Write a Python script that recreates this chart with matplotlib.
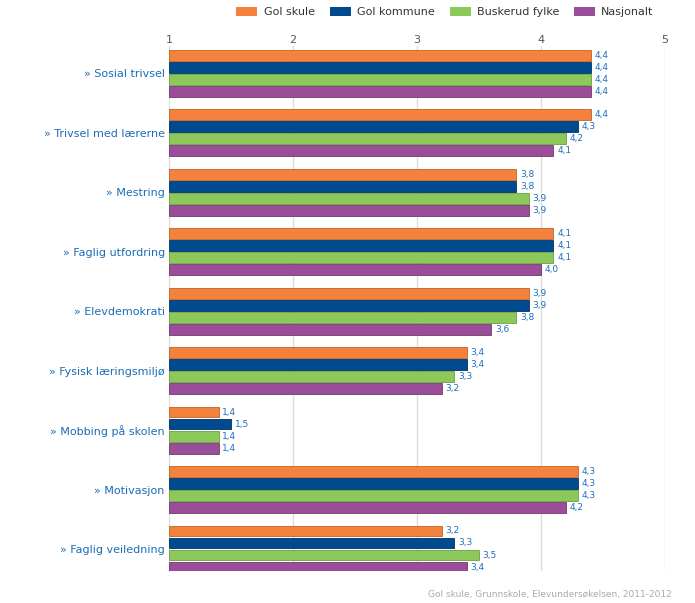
import matplotlib
matplotlib.use("Agg")
import matplotlib.pyplot as plt
import numpy as np

# data
categories = ["Sosial trivsel", "Trivsel med lærerne", "Mestring", "Faglig utfordring",
              "Elevdemokrati", "Fysisk læringsmiljø", "Mobbing på skolen", "Motivasjon",
              "Faglig veiledning"]
series_names = ["Gol skule", "Gol kommune", "Buskerud fylke", "Nasjonalt"]
gol_skule = [4.4, 4.4, 3.8, 4.1, 3.9, 3.4, 1.4, 4.3, 3.2]
gol_kommune = [4.4, 4.3, 3.8, 4.1, 3.9, 3.4, 1.5, 4.3, 3.3]
buskerud = [4.4, 4.2, 3.9, 4.1, 3.8, 3.3, 1.4, 4.3, 3.5]
nasjonalt = [4.4, 4.1, 3.9, 4.0, 3.6, 3.2, 1.4, 4.2, 3.4]
xticks = [1, 2, 3, 4, 5]
source = "Gol skule, Grunnskole, Elevundersøkelsen, 2011-2012"

colors = ["#F5823C", "#004A8F", "#8CC85A", "#9A4E9A"]
edges = ["#C0622A", "#00335F", "#6A9E44", "#723872"]

fig = plt.figure(figsize=(6.95, 6.03), dpi=100)
ax = fig.add_axes([169 / 695, 1 - 571 / 603, (665 - 169) / 695, (571 - 46) / 603])

y = np.arange(len(categories))
pitch = 0.202
height = 0.182
base = 1
for k, vals in enumerate([gol_skule, gol_kommune, buskerud, nasjonalt]):
    pos = y + (k - 1.5) * pitch
    widths = np.array(vals) - base
    ax.barh(pos, widths, left=base, height=height, color=colors[k],
            edgecolor=edges[k], linewidth=0.6, label=series_names[k], zorder=3)
    for p, v in zip(pos, vals):
        ax.text(v + 0.03, p, ("%.1f" % v).replace(".", ","), va="center", ha="left",
                fontsize=6.5, color="#1F6FC0", zorder=4)

ax.set_xlim(1, 5)
ax.set_ylim(len(categories) - 1 + 0.37, -0.46)
ax.set_xticks(xticks)
ax.set_xticklabels([str(t) for t in xticks])
ax.xaxis.tick_top()
ax.tick_params(axis="x", length=0, pad=0.5, labelsize=8, labelcolor="#555555")
ax.set_yticks(y)
ax.set_yticklabels(["» " + c for c in categories], fontsize=8, color="#1A6DB8")
ax.tick_params(axis="y", length=0, pad=3)
ax.grid(axis="x", color="#DDDDDD", linewidth=1, zorder=0)
for s in ["top", "right", "bottom"]:
    ax.spines[s].set_visible(False)
ax.spines["left"].set_color("#DDDDDD")

handles, labels = ax.get_legend_handles_labels()
leg = fig.legend(handles, labels, loc="upper right", bbox_to_anchor=(0.955, 1.005),
                 ncol=4, frameon=False, fontsize=8, handlelength=1.9, handleheight=0.85,
                 columnspacing=1.35, handletextpad=0.55, labelcolor="#333333")
for h in leg.legend_handles:
    h.set_edgecolor("none")

fig.text(0.967, 0.006, source, ha="right", va="bottom", fontsize=6.5, color="#AAAAAA")

fig.savefig("out.png", dpi=100)
